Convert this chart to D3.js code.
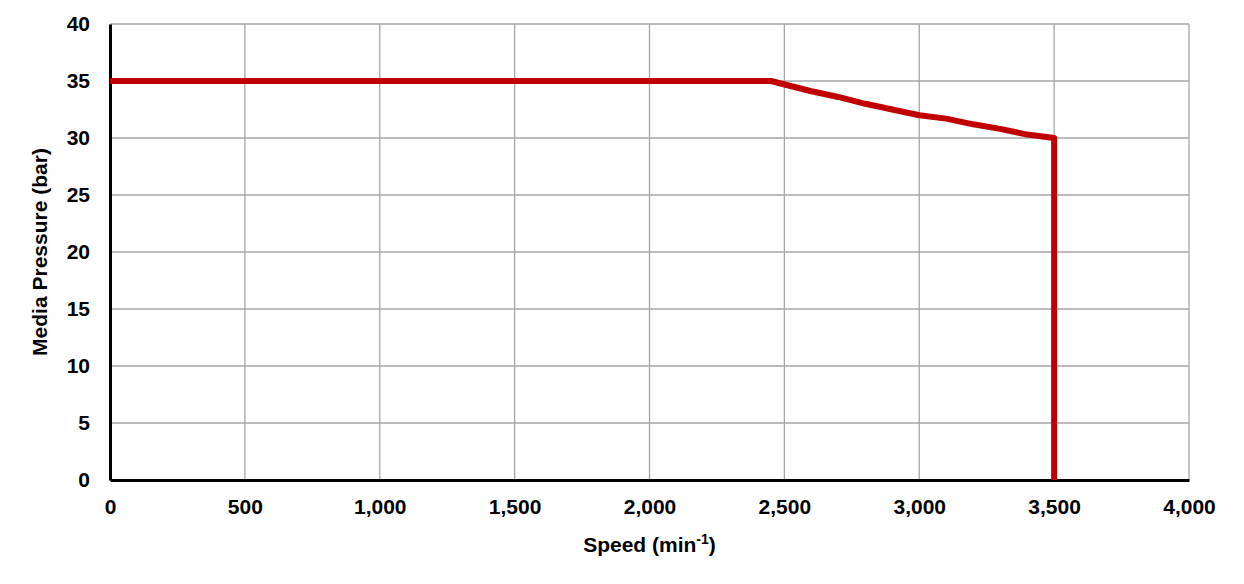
<!DOCTYPE html>
<html><head><meta charset="utf-8">
<script src="https://cdn.jsdelivr.net/npm/d3@7"></script>
<style>
body{margin:0;background:#fff;font-family:"Liberation Sans",Arial,sans-serif;}
text{font-weight:bold;fill:#000;}
</style></head><body>
<svg id="chart" width="1244" height="584"></svg>
<script>
// pressure curve
var speed    = [0, 2450, 2600, 2700, 2800, 2900, 3000, 3100, 3200, 3300, 3400, 3500, 3500];
var pressure = [35, 35, 34.1, 33.6, 33.0, 32.5, 32.0, 31.7, 31.2, 30.8, 30.3, 30.0, 0];
var xTicks = [0, 500, 1000, 1500, 2000, 2500, 3000, 3500, 4000];
var yTicks = [0, 5, 10, 15, 20, 25, 30, 35, 40];

var svg = d3.select('#chart');
var m = {left: 110, right: 55, top: 24, bottom: 104};
var w = 1244 - m.left - m.right, h = 584 - m.top - m.bottom;
var g = svg.append('g').attr('transform', 'translate(' + m.left + ',' + m.top + ')');

var x = d3.scaleLinear().domain([0, 4000]).range([0, w]);
var y = d3.scaleLinear().domain([0, 40]).range([h, 0]);

//grid
g.selectAll('.vg').data(xTicks.slice(1)).enter().append('line')
  .attr('x1', x).attr('x2', x).attr('y1', 0).attr('y2', h)
  .attr('stroke', '#a6a6a6').attr('stroke-width', 1.3);
g.selectAll('.hg').data(yTicks.slice(1)).enter().append('line')
  .attr('y1', y).attr('y2', y).attr('x1', 0).attr('x2', w)
  .attr('stroke', '#a6a6a6').attr('stroke-width', 1.3);

//axes
var xAxis = g.append('g').attr('transform', 'translate(0,' + h + ')')
  .call(d3.axisBottom(x).tickValues(xTicks).tickSize(0).tickPadding(19).tickFormat(d3.format(',')));
var yAxis = g.append('g')
  .call(d3.axisLeft(y).tickValues(yTicks).tickSize(0).tickPadding(20));
[xAxis, yAxis].forEach(function(a) {
  a.select('.domain').attr('stroke', '#000').attr('stroke-width', 3);
  a.selectAll('text').style('font-size', '21px').style('font-family', '"Liberation Sans",Arial,sans-serif');
});

var line = d3.line().x(function(d, i) { return x(speed[i]); }).y(function(d) { return y(d); });
g.append('path').datum(pressure).attr('d', line)
  .attr('fill', 'none').attr('stroke', '#c00000').attr('stroke-width', 6).attr('stroke-linejoin', 'round');

//labels
var xl = svg.append('text').attr('x', m.left + w / 2).attr('y', 552).attr('text-anchor', 'middle')
  .style('font-size', '21px');
xl.append('tspan').text('Speed (min');
xl.append('tspan').text('-1').attr('dy', -8).style('font-size', '14px');
xl.append('tspan').text(')').attr('dy', 8);
svg.append('text').attr('transform', 'translate(47,' + (m.top + h / 2) + ') rotate(-90)')
  .attr('text-anchor', 'middle').style('font-size', '21px').text('Media Pressure (bar)');
</script>
</body></html>
